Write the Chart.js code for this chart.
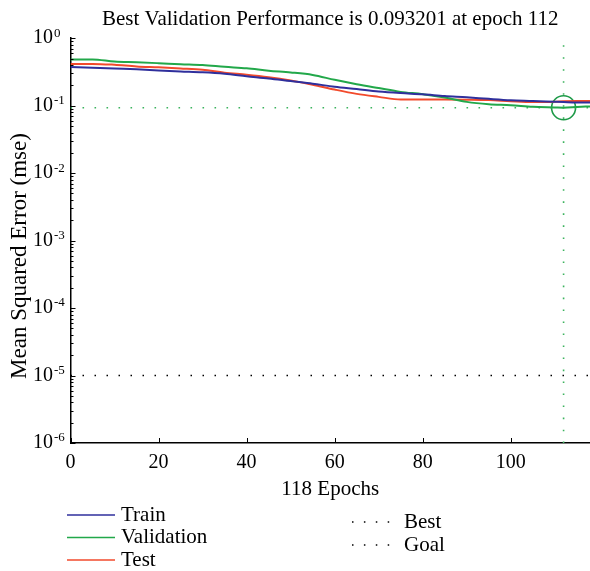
<!DOCTYPE html>
<html>
<head>
<meta charset="utf-8">
<script src="https://cdn.jsdelivr.net/npm/chart.js@4.4.1/dist/chart.umd.min.js"></script>
<style>
  body { margin: 0; background: #fff; }
  canvas { display: block; }
</style>
</head>
<body>
<canvas id="perfChart" width="590" height="571"></canvas>
<script>
// training record (mse per epoch)
var epochs = [0, 5, 10, 15, 20, 25, 30, 35, 40, 45, 50, 55, 60, 65, 70, 75, 80, 85, 90, 95, 100, 105, 110, 112, 115, 118];
var trainMse = [0.3757, 0.3643, 0.3545, 0.3462, 0.3334, 0.3222, 0.3125, 0.2970, 0.2735, 0.2537, 0.2314, 0.2118, 0.1905,
  0.1762, 0.1623, 0.1537, 0.1475, 0.1388, 0.1332, 0.1261, 0.1202, 0.1174, 0.1142, 0.1130, 0.1115, 0.1115];
var validationMse = [0.4837, 0.4837, 0.4500, 0.4395, 0.4262, 0.4120, 0.4009, 0.3770, 0.3581, 0.3300, 0.3104, 0.2850, 0.2418,
  0.2083, 0.1823, 0.1601, 0.1480, 0.1318, 0.1138, 0.1052, 0.1017, 0.0960, 0.0940, 0.093201, 0.0955, 0.0975];
var testMse = [0.4163, 0.4163, 0.4036, 0.3822, 0.3706, 0.3570, 0.3415, 0.3082, 0.2879, 0.2644, 0.2362, 0.2047, 0.1732,
  0.1495, 0.1350, 0.1235, 0.1235, 0.1235, 0.1227, 0.1211, 0.1166, 0.1134, 0.1146, 0.1166, 0.1174, 0.1174];

var bestEpoch = 112;
var bestMse = 0.093201;
var goalMse = 1e-5;
var totalEpochs = 118;
var xTickValues = [0, 20, 40, 60, 80, 100];
var yDecades = [-6, -5, -4, -3, -2, -1, 0];

var serif = "'Liberation Serif', 'DejaVu Serif', serif";

function pairs(ys) {
  return epochs.map(function (e, i) { return { x: e, y: ys[i] }; });
}

function decadeOf(v) {
  var l = Math.log10(v), r = Math.round(l);
  return Math.abs(l - r) < 1e-9 ? r : null;
}

// inward tick marks, decade exponents, rotated y title and the two-column legend
var extras = {
  id: "extras",
  afterDraw: function (chart) {
    var ctx = chart.ctx, area = chart.chartArea;
    var xs = chart.scales.x, ys = chart.scales.y;
    ctx.save();
    ctx.strokeStyle = "#000";
    ctx.lineWidth = 1;
    ctx.beginPath();
    ys.ticks.forEach(function (t) {
      var y = Math.round(ys.getPixelForValue(t.value)) + 0.5;
      var len = decadeOf(t.value) !== null ? 5 : 3;
      ctx.moveTo(area.left, y);
      ctx.lineTo(area.left + len, y);
    });
    xs.ticks.forEach(function (t) {
      var x = Math.round(xs.getPixelForValue(t.value)) + 0.5;
      ctx.moveTo(x, area.bottom);
      ctx.lineTo(x, area.bottom - 5);
    });
    ctx.stroke();

    ctx.fillStyle = "#000";
    ctx.textBaseline = "middle";
    ctx.textAlign = "left";

    // exponent after each "10"
    ctx.font = "13px " + serif;
    ys.ticks.forEach(function (t) {
      var d = decadeOf(t.value);
      if (d === null) return;
      var y = ys.getPixelForValue(t.value);
      ctx.fillText(String(d).replace("-", "\u2010"), 54, y - 5);
    });

    ctx.save();
    ctx.font = "23px " + serif;
    ctx.translate(19.5, 256);
    ctx.rotate(-Math.PI / 2);
    ctx.textAlign = "center";
    ctx.fillText("Mean Squared Error (mse)", 0, 0);
    ctx.restore();

    ctx.font = "21px " + serif;
    var ds = chart.data.datasets;
    var rowsY = [515, 537.5, 560];
    for (var i = 0; i < 3; i++) {
      ctx.strokeStyle = ds[i].borderColor;
      ctx.lineWidth = 1.5;
      ctx.beginPath();
      ctx.moveTo(67, rowsY[i]);
      ctx.lineTo(115, rowsY[i]);
      ctx.stroke();
      ctx.fillText(ds[i].label, 121, rowsY[i]);
    }
    var rightRows = [[ds[3].label, 522], [ds[6].label, 545]];
    rightRows.forEach(function (r) {
      for (var k = 0; k < 4; k++) {
        ctx.fillRect(352 + k * 11.9, r[1] - 0.75, 1.5, 1.5);
      }
      ctx.fillText(r[0], 404, r[1]);
    });
    ctx.restore();
  }
};

var ctxP = document.getElementById("perfChart").getContext("2d");
var perfChart = new Chart(ctxP, {
  type: "line",
  data: {
    datasets: [
      { label: "Train", data: pairs(trainMse), borderColor: "#2f2f9c", borderWidth: 2 },
      { label: "Validation", data: pairs(validationMse), borderColor: "#22a84a", borderWidth: 2 },
      { label: "Test", data: pairs(testMse), borderColor: "#f24a2c", borderWidth: 2 },
      {
        label: "Best",
        data: [{ x: 0, y: bestMse }, { x: totalEpochs, y: bestMse }],
        borderColor: "#3cb35e", borderWidth: 1.6, borderDash: [1.6, 10.4]
      },
      {
        label: "Best epoch",
        data: [{ x: bestEpoch, y: 1e-6 }, { x: bestEpoch, y: 1 }],
        borderColor: "#3cb35e", borderWidth: 1.6, borderDash: [1.6, 10.4]
      },
      {
        label: "Best point",
        data: [{ x: bestEpoch, y: bestMse }],
        showLine: false, pointRadius: 12, pointStyle: "circle",
        pointBorderColor: "#1e9a48", pointBackgroundColor: "rgba(0,0,0,0)", pointBorderWidth: 1.6
      },
      {
        label: "Goal",
        data: [{ x: 0, y: goalMse }, { x: totalEpochs, y: goalMse }],
        borderColor: "#000", borderWidth: 1.5, borderDash: [1.5, 10.5]
      }
    ]
  },
  options: {
    responsive: false,
    animation: false,
    parsing: false,
    elements: {
      point: { radius: 0 },
      line: { cubicInterpolationMode: "monotone", fill: false }
    },
    layout: { autoPadding: false, padding: { top: 0, left: 0, right: -2, bottom: 69 } },
    plugins: {
      legend: { display: false },
      tooltip: { enabled: false },
      title: {
        display: true,
        fullSize: false,
        text: "Best Validation Performance is " + bestMse + " at epoch " + bestEpoch,
        color: "#000",
        font: { family: serif, size: 21, weight: "normal" },
        padding: { top: 7, bottom: 6 }
      }
    },
    scales: {
      x: {
        type: "linear",
        min: 0,
        max: totalEpochs,
        afterBuildTicks: function (scale) {
          scale.ticks = xTickValues.map(function (v) { return { value: v }; });
        },
        afterFit: function (scale) {
          scale.height = 59;
          scale.paddingLeft = 0;
          scale.paddingRight = 0;
        },
        grid: { display: false, drawTicks: false },
        border: { display: true, color: "#000", width: 1.5 },
        ticks: { color: "#000", padding: 8, font: { family: serif, size: 20 } },
        title: {
          display: true,
          text: totalEpochs + " Epochs",
          color: "#000",
          padding: 0,
          font: { family: serif, size: 21 }
        }
      },
      y: {
        type: "logarithmic",
        min: 1e-6,
        max: 1,
        afterBuildTicks: function (scale) {
          var t = [];
          yDecades.forEach(function (d) {
            for (var k = 1; k <= 9; k++) {
              var v = Number((k * Math.pow(10, d)).toPrecision(6));
              if (v <= 1) t.push({ value: v });
            }
          });
          scale.ticks = t;
        },
        afterFit: function (scale) {
          scale.width = 70.5;
          scale.paddingTop = 0;
          scale.paddingBottom = 0;
        },
        grid: { display: false, drawTicks: false },
        border: { display: true, color: "#000", width: 1.5 },
        ticks: {
          color: "#000",
          padding: 17.5,
          autoSkip: false,
          font: { family: serif, size: 20 },
          callback: function (value) {
            return decadeOf(value) !== null ? "10" : "";
          }
        }
      }
    }
  },
  plugins: [extras]
});
</script>
</body>
</html>
